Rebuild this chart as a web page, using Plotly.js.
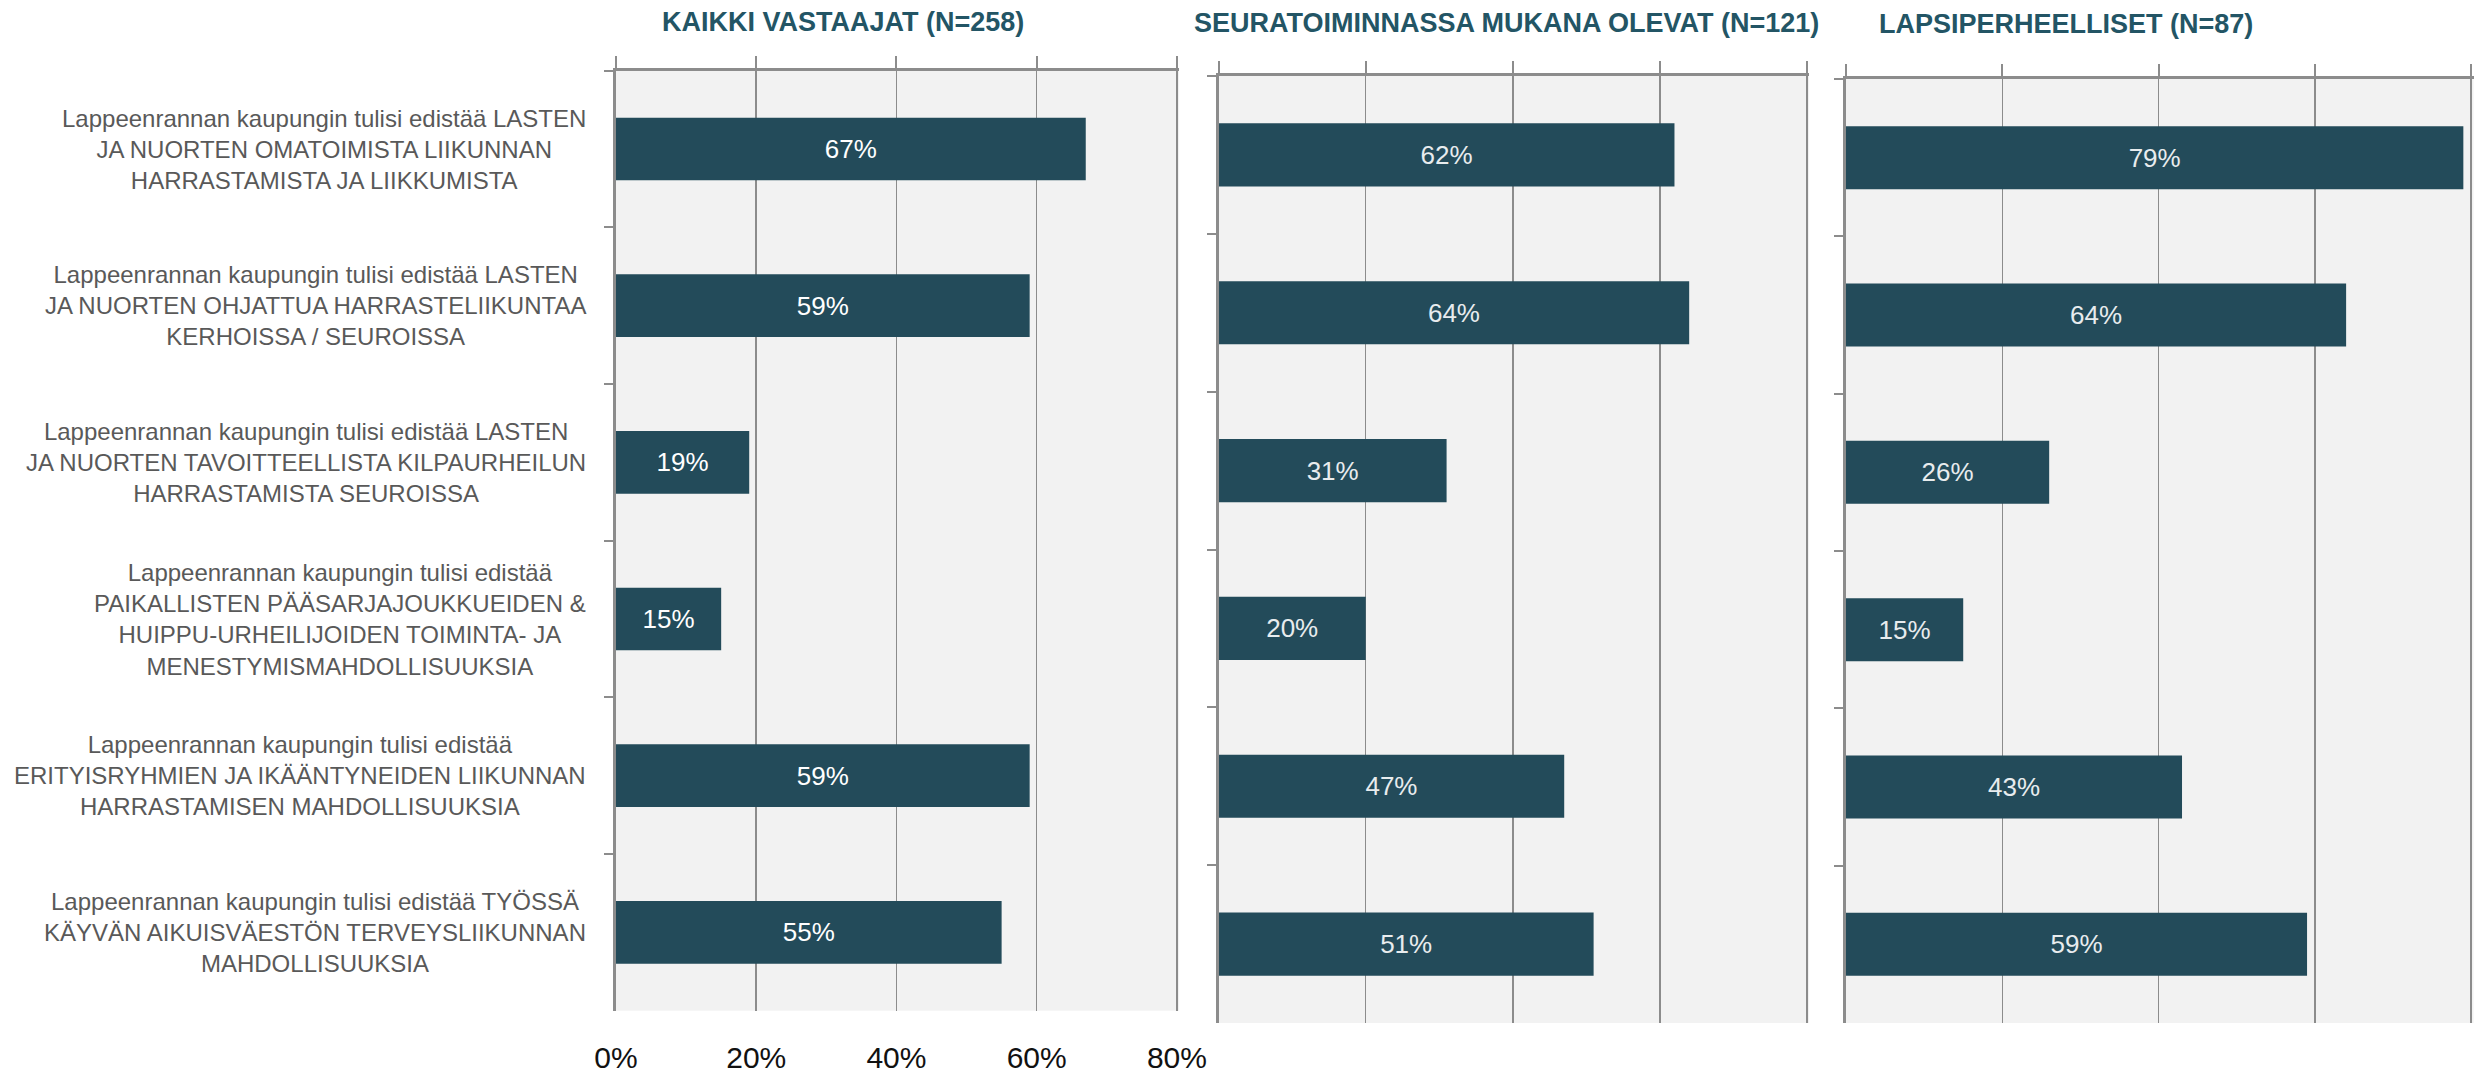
<!DOCTYPE html>
<html><head><meta charset="utf-8">
<script src="https://cdn.plot.ly/plotly-3.0.1.min.js"></script>
<style>html,body{margin:0;padding:0;background:#fff}</style>
</head><body><div id="chart" style="width:2478px;height:1074px"></div>
<script>
const categories = [
  "Lappeenrannan kaupungin tulisi edistää LASTEN<br>JA NUORTEN OMATOIMISTA LIIKUNNAN<br>HARRASTAMISTA JA LIIKKUMISTA",
  "Lappeenrannan kaupungin tulisi edistää LASTEN<br>JA NUORTEN OHJATTUA HARRASTELIIKUNTAA<br>KERHOISSA / SEUROISSA",
  "Lappeenrannan kaupungin tulisi edistää LASTEN<br>JA NUORTEN TAVOITTEELLISTA KILPAURHEILUN<br>HARRASTAMISTA SEUROISSA",
  "Lappeenrannan kaupungin tulisi edistää<br>PAIKALLISTEN PÄÄSARJAJOUKKUEIDEN &<br>HUIPPU-URHEILIJOIDEN TOIMINTA- JA<br>MENESTYMISMAHDOLLISUUKSIA",
  "Lappeenrannan kaupungin tulisi edistää<br>ERITYISRYHMIEN JA IKÄÄNTYNEIDEN LIIKUNNAN<br>HARRASTAMISEN MAHDOLLISUUKSIA",
  "Lappeenrannan kaupungin tulisi edistää TYÖSSÄ<br>KÄYVÄN AIKUISVÄESTÖN TERVEYSLIIKUNNAN<br>MAHDOLLISUUKSIA"
];
const allRespondents = [67, 59, 19, 15, 59, 55];
const clubMembers    = [62, 64, 31, 20, 47, 51];
const families       = [79, 64, 26, 15, 43, 59];
const panelTitles = ["KAIKKI VASTAAJAT (N=258)", "SEURATOIMINNASSA MUKANA OLEVAT (N=121)", "LAPSIPERHEELLISET (N=87)"];
const tickValues = [0, 20, 40, 60, 80];
const tickLabels = ["0%", "20%", "40%", "60%", "80%"];

const FONT = "Liberation Sans, Arial, sans-serif";
const BAR = "#234b5a";
const GRID = "#8c8c8c";
const W = 2478, H = 1074;
const XMAX = 80.3;

function barTrace(vals, xa, ya, tcolor) {
  return {
    type: "bar", orientation: "h", x: vals, y: categories,
    xaxis: xa, yaxis: ya,
    marker: {color: BAR, line: {width: 0}},
    text: vals.map(v => v + "%"),
    textposition: "inside", insidetextanchor: "middle", textangle: 0,
    constraintext: "none",
    textfont: {family: FONT, size: 26, color: tcolor},
    hoverinfo: "skip", showlegend: false
  };
}

function xAxis(domain) {
  return {
    domain: domain, range: [0, XMAX], tickvals: tickValues, side: "top",
    showline: true, linecolor: GRID, linewidth: 3,
    ticks: "outside", ticklen: 12, tickwidth: 2, tickcolor: GRID,
    showticklabels: false, showgrid: true, gridcolor: GRID, gridwidth: 1.5,
    zeroline: false, fixedrange: true
  };
}
function yAxis(domain, xa) {
  return {
    domain: domain, anchor: xa, type: "category", range: [5.5, -0.5],
    showline: true, linecolor: GRID, linewidth: 3,
    ticks: "outside", tickson: "boundaries", ticklen: 9, tickwidth: 2, tickcolor: GRID,
    showticklabels: false, showgrid: false, zeroline: false, fixedrange: true
  };
}

const data = [
  barTrace(allRespondents, "x", "y", "#ffffff"),
  barTrace(clubMembers, "x2", "y2", "#e8ecee"),
  barTrace(families, "x3", "y3", "#e8ecee"),
  {
    type: "scatter", mode: "markers", x: tickValues, y: tickValues.map(() => categories[0]),
    xaxis: "x4", yaxis: "y", marker: {opacity: 0, size: 1},
    hoverinfo: "skip", showlegend: false
  }
];

const annotations = [];
categories.forEach(c => annotations.push({
  xref: "paper", x: 588 / W, xanchor: "right",
  yref: "y", y: c, yanchor: "middle",
  text: c, align: "center", showarrow: false,
  font: {family: FONT, size: 24, color: "#595959"}
}));
const titleX = [843, 1506, 2066];
const titleY = [22, 23, 24];
panelTitles.forEach((t, i) => annotations.push({
  xref: "paper", x: titleX[i] / W, xanchor: "center",
  yref: "paper", y: 1 - titleY[i] / H, yanchor: "middle",
  text: "<b>" + t + "</b>", showarrow: false,
  font: {family: FONT, size: 27, color: "#235565"}
}));

const layout = {
  width: W, height: H, margin: {l: 0, r: 0, t: 0, b: 0},
  paper_bgcolor: "#ffffff", plot_bgcolor: "#f2f2f2",
  bargap: 0.6, showlegend: false,
  font: {family: FONT},
  xaxis: Object.assign(xAxis([616 / W, 1179 / W]), {anchor: "y"}),
  yaxis: yAxis([1 - 1010.7 / H, 1 - 70.7 / H], "x"),
  xaxis2: Object.assign(xAxis([1218.7 / W, 1809 / W]), {anchor: "y2"}),
  yaxis2: yAxis([1 - 1023 / H, 1 - 76 / H], "x2"),
  xaxis3: Object.assign(xAxis([1846 / W, 2473.5 / W]), {anchor: "y3"}),
  yaxis3: yAxis([1 - 1023 / H, 1 - 79 / H], "x3"),
  xaxis4: {
    overlaying: "x", anchor: "y", side: "bottom", range: [0, XMAX],
    tickvals: tickValues, ticktext: tickLabels,
    showgrid: false, showline: false, ticks: "", zeroline: false,
    ticklabelstandoff: 26, tickfont: {family: FONT, size: 30, color: "#111111"},
    fixedrange: true
  },
  annotations: annotations
};

Plotly.newPlot("chart", data, layout, {displayModeBar: false, staticPlot: true});
</script></body></html>
